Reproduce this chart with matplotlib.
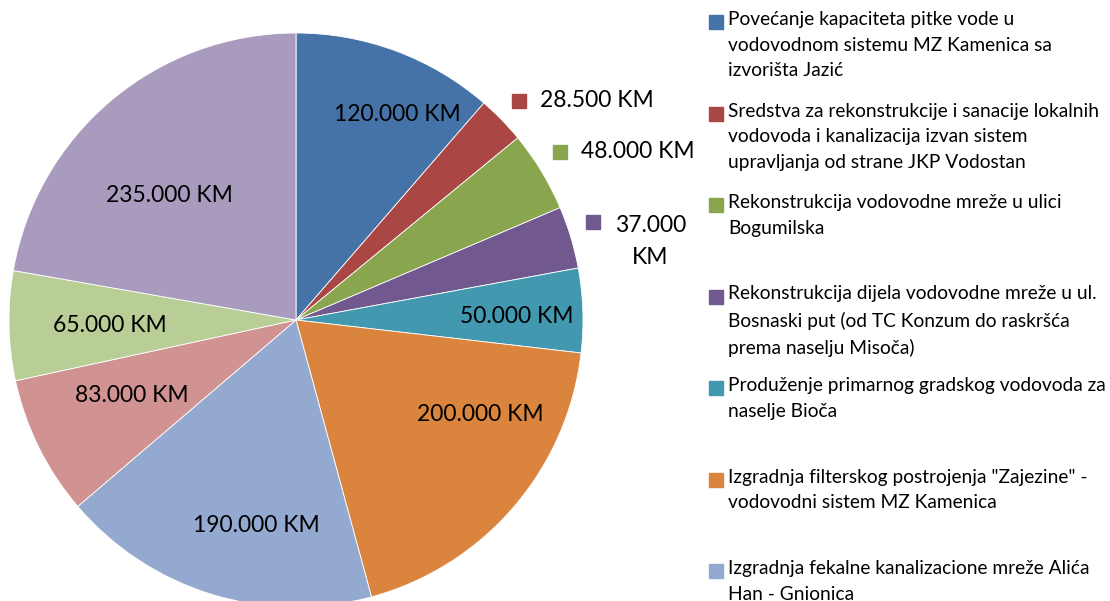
import matplotlib
matplotlib.use('Agg')
import matplotlib.pyplot as plt
import numpy as np

values = [120000, 28500, 48000, 37000, 50000, 200000, 190000, 83000, 65000, 235000]
value_labels = ['120.000 KM', '28.500 KM', '48.000 KM', '37.000\nKM', '50.000 KM',
                '200.000 KM', '190.000 KM', '83.000 KM', '65.000 KM', '235.000 KM']
legend_labels = [
    'Povećanje kapaciteta pitke vode u\nvodovodnom sistemu MZ Kamenica sa\nizvorišta Jazić',
    'Sredstva za rekonstrukcije i sanacije lokalnih\nvodovoda i kanalizacija izvan sistem\nupravljanja od strane JKP Vodostan',
    'Rekonstrukcija vodovodne mreže u ulici\nBogumilska',
    'Rekonstrukcija dijela vodovodne mreže u ul.\nBosnaski put (od TC Konzum do raskršća\nprema naselju Misoča)',
    'Produženje primarnog gradskog vodovoda za\nnaselje Bioča',
    'Izgradnja filterskog postrojenja "Zajezine" -\nvodovodni sistem MZ Kamenica',
    'Izgradnja fekalne kanalizacione mreže Alića\nHan - Gnionica',
    'Izgradnja kanalizacione mreže',
    'Rekonstrukcija vodovodne mreže',
    'Ostali projekti',
]
colors = ['#4572A7', '#AA4643', '#89A54E', '#71588F', '#4198AF',
          '#DB843D', '#93A9CF', '#D19392', '#B9CD96', '#A99BBD']

# label layout: (radius fraction, angle shift in degrees, outside?)
label_layout = [(0.80, -5.8, False), (1.09, 0.2, True), (1.09, 1.3, True), (1.09, 1.6, True),
                (0.77, -0.9, False), (0.72, 13.6, False), (0.73, 6.1, False),
                (0.63, -1.7, False), (0.65, 0.4, False), (0.62, 5.5, False)]

W, H = 1110, 601
plt.rcParams['font.family'] = ['Lato', 'DejaVu Sans']
fig = plt.figure(figsize=(W / 100, H / 100), dpi=100)
ax = fig.add_axes([0, 0, 1, 1])

cx, cy, r = 296, H - 320, 287
wedges, _ = ax.pie(values, colors=colors, startangle=90, counterclock=False,
                   center=(cx, cy), radius=r, frame=True,
                   wedgeprops=dict(edgecolor='white', linewidth=0.6))
ax.set_xlim(0, W)
ax.set_ylim(0, H)
ax.axis('off')

fs = 16.5
for w, lab, col, (frac, shift, outside) in zip(wedges, value_labels, colors, label_layout):
    mid = np.deg2rad((w.theta1 + w.theta2) / 2 + shift)
    x = cx + frac * r * np.cos(mid)
    y = cy + frac * r * np.sin(mid)
    if outside:
        ax.plot(x, y, marker='s', markersize=10.5, color=col, linestyle='none')
        if '\n' in lab:
            ax.text(x + 22, y + 7, lab, ha='left', va='top', fontsize=fs,
                    multialignment='center', linespacing=1.7)
        else:
            ax.text(x + 21, y, lab, ha='left', va='center', fontsize=fs)
    else:
        ax.text(x, y, lab, ha='center', va='center', fontsize=fs)

# legend on the right
leg_x, leg_top, leg_step = 716, 22, 91.5
for i, (lab, col) in enumerate(zip(legend_labels, colors)):
    y = H - (leg_top + i * leg_step)
    if y < 10:
        break
    ax.plot(leg_x, y, marker='s', markersize=10.5, color=col, linestyle='none')
    ax.text(leg_x + 12, y + 11, lab, ha='left', va='top', fontsize=13.8,
            linespacing=1.62)
fig.savefig('out.png', dpi=100)
